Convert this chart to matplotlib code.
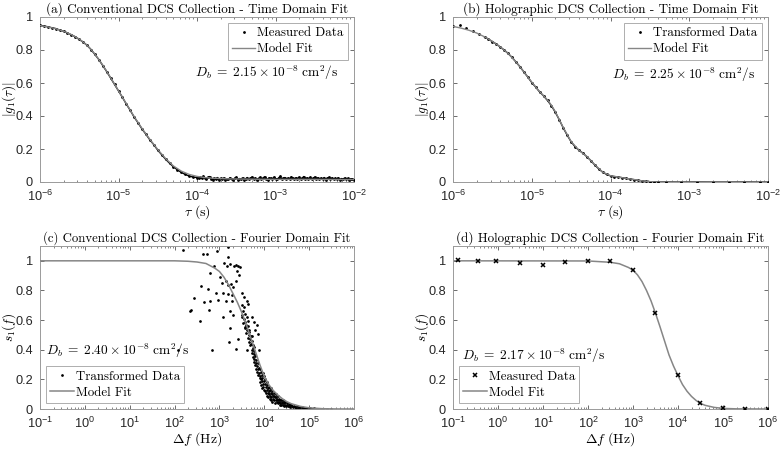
import numpy as np
import matplotlib; matplotlib.use("Agg")
import matplotlib.pyplot as plt
from matplotlib.ticker import FixedLocator, LogLocator, NullFormatter
from matplotlib.font_manager import FontProperties

# ── data (lag / frequency values stored as log10 exponents) ─────────────────
# (a) conventional DCS, time domain
a_fit_exp = [-6.0, -5.9, -5.8, -5.7, -5.6, -5.5, -5.4, -5.3, -5.2, -5.1, -5.0,
             -4.9, -4.8, -4.7, -4.6, -4.5, -4.4, -4.3, -4.2, -4.1, -4.0, -3.9,
             -3.8, -3.6, -3.3, -3.0, -2.5, -2.0]
a_fit = [0.948, 0.940, 0.929, 0.914, 0.893, 0.866, 0.829, 0.775, 0.708, 0.632,
         0.553, 0.474, 0.396, 0.324, 0.258, 0.197, 0.142, 0.097, 0.066, 0.046,
         0.034, 0.027, 0.023, 0.019, 0.017, 0.016, 0.016, 0.015]
a_meas_decay = [0.950, 0.945, 0.941, 0.935, 0.930, 0.921, 0.914, 0.903, 0.892,
                0.880, 0.864, 0.848, 0.828, 0.803, 0.773, 0.742, 0.706, 0.669,
                0.630, 0.592, 0.551, 0.513, 0.472, 0.434, 0.393, 0.358, 0.321,
                0.289, 0.255, 0.226, 0.193, 0.166, 0.138, 0.114, 0.092, 0.074,
                0.058, 0.046, 0.036, 0.030, 0.027]          # tau = 1e-6 .. 1e-4
a_meas_tail = [0.024, 0.031, 0.022, 0.035, 0.026, 0.019, 0.028, 0.033, 0.021, 0.014,
               0.025, 0.018, 0.027, 0.013, 0.022, 0.017, 0.024, 0.012, 0.020, 0.016,
               0.026, 0.019, 0.011, 0.023, 0.029, 0.015, 0.021, 0.018, 0.025, 0.013,
               0.020, 0.027, 0.016, 0.022, 0.030, 0.019, 0.024, 0.014, 0.021, 0.028,
               0.017, 0.023, 0.032, 0.020, 0.015, 0.026, 0.022, 0.018, 0.029, 0.021,
               0.016, 0.025, 0.034, 0.019, 0.023, 0.027, 0.017, 0.024, 0.020, 0.031,
               0.022, 0.018, 0.026, 0.021, 0.029, 0.016, 0.024, 0.033, 0.019, 0.025,
               0.020, 0.028, 0.017, 0.023, 0.030, 0.021, 0.026, 0.018, 0.024, 0.019,
               0.027, 0.015, 0.022, 0.028, 0.020, 0.025, 0.017, 0.023, 0.019, 0.026,
               0.014, 0.021, 0.018, 0.024, 0.016, 0.022, 0.013, 0.020, 0.017, 0.015]
a_Db = "2.15"

# (b) holographic DCS, time domain
b_fit_exp = [-6.0, -5.9, -5.8, -5.7, -5.6, -5.5, -5.4, -5.3, -5.2, -5.1, -5.0,
             -4.9, -4.8, -4.75, -4.7, -4.6, -4.5, -4.4, -4.3, -4.2, -4.1, -4.0,
             -3.9, -3.8, -3.7, -3.6, -3.5, -3.4, -2.0]
b_fit = [0.943, 0.933, 0.920, 0.903, 0.880, 0.852, 0.818, 0.780, 0.728, 0.668,
         0.605, 0.548, 0.497, 0.465, 0.425, 0.330, 0.245, 0.192, 0.155, 0.105,
         0.060, 0.038, 0.030, 0.022, 0.015, 0.007, 0.002, 0.000, 0.000]
b_early_exp = [-6.0, -5.91, -5.83, -5.74, -5.67]
b_early = [0.945, 0.952, 0.935, 0.917, 0.899]
b_dense = [0.879, 0.866, 0.851, 0.836, 0.818, 0.800, 0.779, 0.755, 0.727, 0.699,
           0.667, 0.636, 0.603, 0.575, 0.546, 0.522, 0.494, 0.462, 0.422, 0.377,
           0.328, 0.284, 0.244, 0.214, 0.192, 0.175, 0.153, 0.130, 0.103, 0.080,
           0.060, 0.046, 0.037, 0.033, 0.030, 0.026, 0.022, 0.018, 0.014, 0.010,
           0.007, 0.004, 0.002, 0.001, 0.000]               # tau = 10^-5.6 .. 10^-3.4
b_tail_exp = [-3.3, -3.1, -2.9, -2.7, -2.5, -2.3, -2.1, -2.0]
b_tail = [0.001, 0.000, 0.001, 0.000, 0.000, 0.001, 0.000, 0.000]
b_Db = "2.25"

# (c) conventional DCS, Fourier domain
c_fit_exp = [-1.0, 2.0, 2.3, 2.5, 2.7, 2.9, 3.0, 3.1, 3.2, 3.3, 3.4, 3.5, 3.6,
             3.7, 3.8, 3.9, 4.0, 4.1, 4.2, 4.3, 4.4, 4.5, 4.6, 4.8, 5.0, 5.3,
             5.6, 6.0]
c_fit = [1.0, 1.0, 0.997, 0.992, 0.982, 0.950, 0.928, 0.890, 0.840, 0.780, 0.720,
         0.650, 0.570, 0.480, 0.390, 0.300, 0.220, 0.165, 0.125, 0.095, 0.070,
         0.050, 0.036, 0.018, 0.008, 0.002, 0.0005, 0.0]
c_pts_exp = [2.18, 2.34, 2.37, 2.07, 2.44, 2.64, 2.72, 2.94, 3.18, 3.18,
             3.11, 3.16, 3.24, 3.33, 3.37, 3.42, 2.89, 2.79,
             3.01, 3.05, 3.14, 3.20, 3.26, 3.31, 3.37, 3.40, 3.44, 3.46,
             2.60, 2.74, 2.92, 3.09, 3.20, 3.29, 3.50, 3.55, 3.61, 3.64,
             2.66, 2.79, 2.96, 3.14, 3.27,
             2.77, 3.24, 3.31, 3.50, 3.64, 3.73, 3.78, 3.83, 2.57, 3.09,
             3.24, 3.57, 3.66, 3.72, 3.79, 3.87, 3.42, 3.22,
             2.83, 3.38, 3.61, 3.76, 3.88,
             3.50, 3.51, 3.52, 3.53, 3.54, 3.55, 3.56, 3.57, 3.58, 3.59,
             3.60, 3.61, 3.62, 3.63, 3.64, 3.65, 3.66, 3.67, 3.68, 3.69,
             3.70, 3.71, 3.72, 3.72, 3.73, 3.74, 3.75, 3.75, 3.76, 3.77,
             3.78, 3.78, 3.79, 3.80, 3.81, 3.82, 3.82, 3.83, 3.84, 3.85,
             3.86, 3.87, 3.88, 3.89, 3.90,
             3.90, 3.91, 3.91, 3.92, 3.93, 3.93, 3.94, 3.95, 3.95, 3.96,
             3.97, 3.97, 3.98, 3.99, 4.00, 4.00, 4.01, 4.02, 4.02, 4.03,
             4.04, 4.05, 4.05, 4.06, 4.07, 4.08, 4.08, 4.09, 4.10, 4.10,
             4.11, 4.12, 4.12, 4.13, 4.14, 4.15, 4.15, 4.16, 4.17, 4.18,
             4.18, 4.19, 4.20, 4.21, 4.22, 4.22, 4.23, 4.24, 4.25, 4.26,
             4.27, 4.28, 4.29, 4.30, 4.30, 4.31, 4.32, 4.33, 4.34, 4.35,
             4.36, 4.37, 4.38, 4.39, 4.40, 4.41, 4.42, 4.43, 4.44, 4.45,
             4.46, 4.47, 4.48, 4.50, 4.51, 4.52, 4.54, 4.55, 4.57, 4.58,
             4.60, 4.62, 4.64, 4.66, 4.68,
             4.70, 4.72, 4.75, 4.78, 4.80, 4.83, 4.86, 4.89, 4.92, 4.95,
             4.99, 5.03, 5.07, 5.11, 5.16, 5.20, 5.26, 5.32, 5.40, 5.48]
c_pts = [1.072, 0.660, 0.665, 0.396, 0.747, 1.049, 1.049, 1.063, 1.029, 1.095,
         0.982, 0.966, 0.978, 0.966, 0.973, 0.966, 0.966, 0.915,
         0.888, 0.850, 0.866, 0.839, 0.843, 0.825, 0.861, 0.933, 0.906, 0.955,
         0.828, 0.810, 0.781, 0.781, 0.776, 0.772, 0.781, 0.754, 0.731, 0.709,
         0.720, 0.731, 0.736, 0.727, 0.731,
         0.669, 0.664, 0.631, 0.631, 0.597, 0.620, 0.586, 0.564, 0.597, 0.620,
         0.548, 0.552, 0.530, 0.490, 0.535, 0.503, 0.474, 0.450,
         0.396, 0.407, 0.400, 0.418, 0.396,
         0.70, 0.62, 0.66, 0.58, 0.69, 0.61, 0.55, 0.64, 0.59, 0.51,
         0.57, 0.62, 0.53, 0.48, 0.56, 0.50, 0.45, 0.52, 0.47, 0.43,
         0.49, 0.44, 0.40, 0.46, 0.38, 0.43, 0.35, 0.41, 0.37, 0.32,
         0.39, 0.34, 0.30, 0.36, 0.31, 0.27, 0.33, 0.29, 0.25, 0.31,
         0.27, 0.23, 0.28, 0.24, 0.21,
         0.27, 0.22, 0.18, 0.25, 0.20, 0.16, 0.23, 0.19, 0.14, 0.21,
         0.17, 0.24, 0.15, 0.19, 0.13, 0.22, 0.17, 0.12, 0.20, 0.15,
         0.11, 0.18, 0.13, 0.09, 0.16, 0.11, 0.14, 0.08, 0.12, 0.15,
         0.10, 0.07, 0.13, 0.09, 0.11, 0.06, 0.14, 0.08, 0.10, 0.12,
         0.05, 0.09, 0.07, 0.11, 0.06, 0.09, 0.08, 0.04, 0.10, 0.06,
         0.08, 0.05, 0.07, 0.04, 0.09, 0.06, 0.05, 0.07, 0.03, 0.06,
         0.04, 0.06, 0.03, 0.05, 0.04, 0.06, 0.03, 0.05, 0.02, 0.04,
         0.03, 0.05, 0.02, 0.04, 0.03, 0.02, 0.035, 0.02, 0.03, 0.015,
         0.025, 0.02, 0.012, 0.022, 0.015,
         0.010, 0.018, 0.008, 0.014, 0.006, 0.011, 0.005, 0.009, 0.004, 0.007,
         0.003, 0.006, 0.002, 0.004, 0.001, 0.003, 0.001, 0.002, 0.000, 0.001]
c_Db = "2.40"

# (d) holographic DCS, Fourier domain
d_fit_exp = [-1.0, 2.0, 2.5, 2.7, 2.9, 3.0, 3.1, 3.2, 3.3, 3.4, 3.5, 3.6, 3.7,
             3.8, 3.9, 4.0, 4.1, 4.2, 4.3, 4.4, 4.5, 4.6, 4.8, 5.0, 5.3, 6.0]
d_fit = [1.0, 0.999, 0.990, 0.980, 0.955, 0.937, 0.905, 0.860, 0.800, 0.730,
         0.646, 0.555, 0.460, 0.365, 0.290, 0.225, 0.165, 0.120, 0.085, 0.058,
         0.038, 0.025, 0.011, 0.004, 0.001, 0.0]
d_meas_f = [0.13, 0.36, 0.92, 3.16, 10, 31.6, 100, 316, 1e3, 3.16e3, 1e4,
            3.16e4, 1e5, 3.16e5, 1e6]
d_meas = [1.007, 0.996, 1.002, 0.987, 0.973, 0.989, 0.998, 0.998, 0.935, 0.647,
          0.230, 0.038, 0.004, 0.000, 0.000]
d_Db = "2.17"

# ── style ─────────────────────────────────────────────────────────────────
plt.rcParams["font.family"] = ["Liberation Sans", "DejaVu Sans"]
plt.rcParams["mathtext.fontset"] = "cm"
LEG = FontProperties(family="cmr10", size=9.3)
FIT = "#868686"
EDGE = "#9a9a9a"
LBL = 10.0

fig = plt.figure(figsize=(7.8, 4.5), dpi=100)
W, H = 780, 450
def box(l, t, r, b):
    return [l / W, 1 - b / H, (r - l) / W, (b - t) / H]

ax_a = fig.add_axes(box(40, 17, 354, 182))
ax_b = fig.add_axes(box(453, 17, 768, 182))
ax_c = fig.add_axes(box(40, 246, 354, 409))
ax_d = fig.add_axes(box(453, 246, 768, 409))

def style(ax, xlo, xhi, ytop, title, xlabel, ylabel, title_px):
    ax.set_xscale("log")
    ax.set_xlim(10.0 ** xlo, 10.0 ** xhi)
    ax.set_ylim(0, ytop)
    ax.xaxis.set_major_locator(FixedLocator([10.0 ** k for k in range(xlo, xhi + 1)]))
    ax.xaxis.set_minor_locator(LogLocator(base=10, subs=np.arange(2, 10), numticks=20))
    ax.xaxis.set_minor_formatter(NullFormatter())
    ax.set_yticks([0, 0.2, 0.4, 0.6, 0.8, 1.0])
    ax.set_yticklabels(["0", "0.2", "0.4", "0.6", "0.8", "1"])
    ax.tick_params(which="both", direction="in", top=True, right=True,
                   color="#555555", labelcolor="#262626", labelsize=9.2)
    ax.tick_params(axis="x", which="major", pad=5)
    ax.tick_params(axis="y", which="major", pad=5)
    ax.tick_params(which="major", length=3, width=0.6)
    ax.tick_params(which="minor", length=1.6, width=0.5)
    for s in ax.spines.values():
        s.set_color(EDGE); s.set_linewidth(0.7)
    t = ax.set_title(title, fontproperties=FontProperties(family="cmr10", size=10), pad=3)
    # scale the title so it spans the same width as in the reference
    w = t.get_window_extent(fig.canvas.get_renderer()).width
    t.set_fontsize(10 * title_px / w)
    ax.set_xlabel(xlabel, fontsize=LBL)
    ax.set_ylabel(ylabel, fontsize=9.6)
    ax.xaxis.set_label_coords(0.5, -0.13)
    ax.yaxis.set_label_coords(-0.071, 0.5)

def legend(ax, loc):
    lg = ax.legend(loc=loc, prop=LEG, frameon=True, fancybox=False,
                   handlelength=1.8, handletextpad=0.15, borderpad=0.35,
                   labelspacing=0.3, borderaxespad=0.45)
    lg.get_frame().set_edgecolor(EDGE)
    lg.get_frame().set_linewidth(0.7)

def db_text(ax, x, y, val):
    ax.text(x, y, rf"$D_b \;=\; {val} \times 10^{{-8}}\ \mathrm{{cm}}^2/\mathrm{{s}}$",
            transform=ax.transAxes, fontsize=9.6, va="center", ha="left")

# (a)
a_meas_exp = list(np.linspace(-6.0, -4.0, len(a_meas_decay))) + \
             list(np.linspace(-3.98, -2.0, len(a_meas_tail)))
a_meas = a_meas_decay + a_meas_tail
a_tau = 10.0 ** np.array(a_meas_exp)
ax_a.plot(a_tau, a_meas, color="black", lw=1.0, zorder=2)
ax_a.plot(a_tau, a_meas, ".", color="black", ms=2.0, zorder=3, label="Measured Data")
ax_a.plot(10.0 ** np.array(a_fit_exp), a_fit, color=FIT, lw=1.0, zorder=4, label="Model Fit")
style(ax_a, -6, -2, 1.0, "(a) Conventional DCS Collection - Time Domain Fit",
      r"$\tau\ (\mathrm{s})$", r"$|g_1(\tau)|$", 303)
legend(ax_a, "upper right")
db_text(ax_a, 0.495, 0.66, a_Db)

# (b)
b_dense_exp = list(np.linspace(-5.6, -3.4, len(b_dense)))
b_exp = b_early_exp + b_dense_exp + b_tail_exp
b_meas = b_early + b_dense + b_tail
b_tau = 10.0 ** np.array(b_exp)
ax_b.plot(10.0 ** np.array(b_dense_exp + b_tail_exp), b_dense + b_tail,
          color="black", lw=1.0, zorder=2)
ax_b.plot(b_tau, b_meas, ".", color="black", ms=2.0, zorder=3, label="Transformed Data")
ax_b.plot(10.0 ** np.array(b_fit_exp), b_fit, color=FIT, lw=1.0, zorder=4, label="Model Fit")
style(ax_b, -6, -2, 1.0, "(b) Holographic DCS Collection - Time Domain Fit",
      r"$\tau\ (\mathrm{s})$", r"$|g_1(\tau)|$", 297)
legend(ax_b, "upper right")
db_text(ax_b, 0.504, 0.65, b_Db)

# (c)
ax_c.plot(10.0 ** np.array(c_pts_exp), c_pts, ".", color="black", ms=1.9,
          zorder=2, label="Transformed Data")
ax_c.plot(10.0 ** np.array(c_fit_exp), c_fit, color=FIT, lw=1.1, zorder=3, label="Model Fit")
style(ax_c, -1, 6, 1.1, "(c) Conventional DCS Collection - Fourier Domain Fit",
      r"$\Delta f\ (\mathrm{Hz})$", r"$s_1(f)$", 307)
legend(ax_c, "lower left")
db_text(ax_c, 0.018, 0.356, c_Db)

# (d)
ax_d.plot(d_meas_f, d_meas, "x", color="black", ms=3.5, mew=1.1, zorder=3,
          label="Measured Data")
ax_d.plot(10.0 ** np.array(d_fit_exp), d_fit, color=FIT, lw=1.1, zorder=2, label="Model Fit")
style(ax_d, -1, 6, 1.1, "(d) Holographic DCS Collection - Fourier Domain Fit",
      r"$\Delta f\ (\mathrm{Hz})$", r"$s_1(f)$", 310)
legend(ax_d, "lower left")
db_text(ax_d, 0.028, 0.325, d_Db)

fig.savefig("out.png", dpi=100, facecolor="white")
